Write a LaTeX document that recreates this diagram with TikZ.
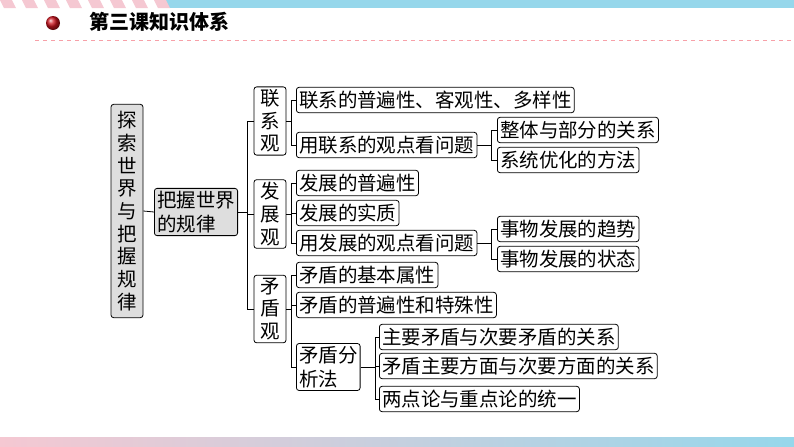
\documentclass[tikz,border=0pt]{standalone}
\usepackage{fontspec}
\setmainfont{Noto Sans CJK SC}
\usetikzlibrary{positioning}
\definecolor{boxgrey}{RGB}{222,222,222}
\definecolor{barblue}{RGB}{150,215,235}
\definecolor{barpink}{RGB}{245,200,210}
\definecolor{dotred}{RGB}{205,20,30}
\begin{document}
\begin{tikzpicture}[x=0.75pt,y=-0.75pt,
	box/.style={draw,rounded corners=2pt,line width=0.6pt,inner sep=2pt,font=\fontsize{14.6}{16}\selectfont,anchor=west,minimum height=19pt},
	vbox/.style={draw,rounded corners=2pt,line width=0.6pt,inner sep=2pt,font=\fontsize{14.6}{17}\selectfont,align=center,minimum width=24pt},
	greybox/.style={fill=boxgrey},
	link/.style={line width=0.6pt}]
	\useasboundingbox (0,0) rectangle (794,447);
	% header
	\fill[barblue] (165,0) -- (794,0) -- (794,8) -- (165,8) -- cycle;
	\foreach \i in {0,...,7} \fill[barpink] (\i*22,0) -- (\i*22+12,0) -- (\i*22+16,8) -- (\i*22+4,8) -- cycle;
	\draw[barpink!80!red,dashed,line width=0.6pt] (35,40) -- (794,40);
	\shade[ball color=dotred] (53,23) circle (7);
	\node[anchor=west,font=\fontsize{15}{17}\selectfont\bfseries] (title) at (85,22) {第三课知识体系};
	% footer
	\shade[left color=barpink,right color=barblue] (0,437) rectangle (794,447);

	\node[vbox,greybox,minimum height=160pt] (root) at (127,211) {探\\索\\世\\界\\与\\把\\握\\规\\律};
	\node[box,greybox,align=left,anchor=center,font=\fontsize{14.6}{18}\selectfont] (rule) at (196,212) {把握世界\\的规律};

	\node[vbox] (lian)  at (270,121) {联\\系\\观};
	\node[vbox] (fa)    at (270,214) {发\\展\\观};
	\node[vbox] (mao)   at (270,309) {矛\\盾\\观};

	\node[box] (l1) at (296,100) {联系的普遍性、客观性、多样性};
	\node[box] (l2) at (296,145) {用联系的观点看问题};
	\node[box] (l21) at (497,130) {整体与部分的关系};
	\node[box] (l22) at (497,160) {系统优化的方法};

	\node[box] (f1) at (296,183) {发展的普遍性};
	\node[box] (f2) at (296,213) {发展的实质};
	\node[box] (f3) at (296,243) {用发展的观点看问题};
	\node[box] (f31) at (497,229) {事物发展的趋势};
	\node[box] (f32) at (497,259) {事物发展的状态};

	\node[box] (m1) at (296,275) {矛盾的基本属性};
	\node[box] (m2) at (296,305) {矛盾的普遍性和特殊性};
	\node[box,align=left,font=\fontsize{14.6}{18}\selectfont] (m3) at (296,367) {矛盾分\\析法};
	\node[box] (m31) at (379,337) {主要矛盾与次要矛盾的关系};
	\node[box] (m32) at (379,366) {矛盾主要方面与次要方面的关系};
	\node[box] (m33) at (379,399) {两点论与重点论的统一};

	% connectors
	\draw[link] (root.east) -- (rule.west);
	\coordinate (b0) at (247,212);
	\draw[link] (rule.east) -- (b0);
	\foreach \c in {lian,fa,mao} \draw[link] (b0) |- (\c.west);
	\coordinate (b1) at (291,121);
	\draw[link] (lian.east) -- (b1);
	\foreach \c in {l1,l2} \draw[link] (b1) |- (\c.west);
	\coordinate (b2) at (491,145);
	\draw[link] (l2.east) -- (b2);
	\foreach \c in {l21,l22} \draw[link] (b2) |- (\c.west);
	\coordinate (b3) at (291,214);
	\draw[link] (fa.east) -- (b3);
	\foreach \c in {f1,f2,f3} \draw[link] (b3) |- (\c.west);
	\coordinate (b4) at (491,243);
	\draw[link] (f3.east) -- (b4);
	\foreach \c in {f31,f32} \draw[link] (b4) |- (\c.west);
	\coordinate (b5) at (291,309);
	\draw[link] (mao.east) -- (b5);
	\foreach \c in {m1,m2,m3} \draw[link] (b5) |- (\c.west);
	\coordinate (b6) at (375,367);
	\draw[link] (m3.east) -- (b6);
	\foreach \c in {m31,m32,m33} \draw[link] (b6) |- (\c.west);
\end{tikzpicture}
\end{document}
